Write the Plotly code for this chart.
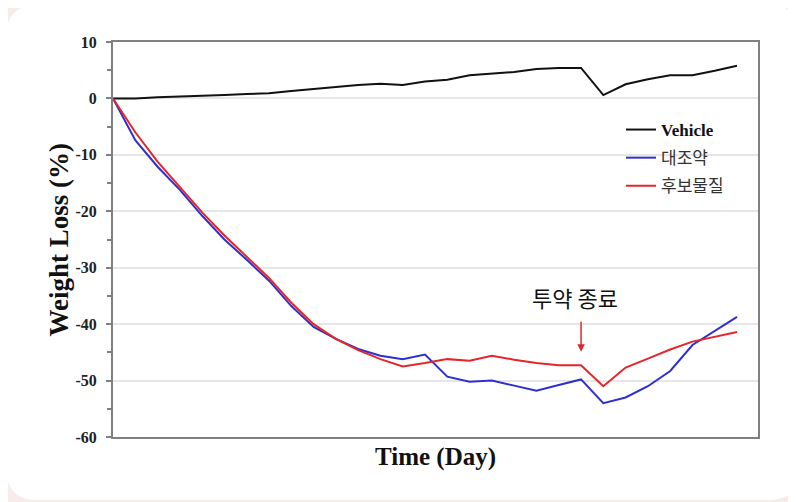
import plotly.graph_objects as go

days = list(range(29))
vehicle = [0, 0, 0.2, 0.3, 0.4, 0.6, 0.8, 0.9, 1.3, 1.7, 2.0, 2.4, 2.6, 2.4, 3.0,
           3.3, 4.1, 4.4, 4.7, 5.2, 5.4, 5.4, 0.6, 2.5, 3.4, 4.1, 4.1, 4.9, 5.8]
control = [0, -7.4, -12.1, -16.2, -20.8, -25.0, -28.6, -32.3, -36.8, -40.5, -42.6,
           -44.4, -45.6, -46.2, -45.4, -49.3, -50.2, -50.0, -50.9, -51.8, -50.8,
           -49.8, -54.0, -53.0, -51.0, -48.3, -43.7, -41.2, -38.7]
candidate = [0, -6.0, -11.2, -15.8, -20.2, -24.3, -28.0, -31.8, -36.2, -40.0, -42.6,
             -44.6, -46.2, -47.5, -46.9, -46.2, -46.5, -45.6, -46.3, -46.9, -47.3,
             -47.3, -51.0, -47.7, -46.1, -44.5, -43.1, -42.3, -41.4]
series_names = ["Vehicle", "대조약", "후보물질"]
series_colors = ["#111111", "#2f2fd0", "#e3262b"]
y_tick_vals = [10, 0, -10, -20, -30, -40, -50, -60]
y_tick_text = ["10", "0", "-10", "-20", "-30", "-40", "-50", "-60"]
end_day = 21
end_label = "투약 종료"
x_title = "Time (Day)"
y_title = "Weight Loss (%)"

W, H = 796, 502
OFF = 8  # page body margin
L, R, T, B = 113 - OFF, 758 - OFF, 42 - OFF, 437 - OFF


def px(x):
    return (x - OFF - L) / (R - L)


def py(y):
    return (B - (y - OFF)) / (B - T)


def rounded_rect(x0, y0, x1, y1, r):
    pts = [
        f"M {px(x0 + r)} {py(y0)}",
        f"L {px(x1 - r)} {py(y0)}",
        f"Q {px(x1)} {py(y0)} {px(x1)} {py(y0 + r)}",
        f"L {px(x1)} {py(y1 - r)}",
        f"Q {px(x1)} {py(y1)} {px(x1 - r)} {py(y1)}",
        f"L {px(x0 + r)} {py(y1)}",
        f"Q {px(x0)} {py(y1)} {px(x0)} {py(y1 - r)}",
        f"L {px(x0)} {py(y0 + r)}",
        f"Q {px(x0)} {py(y0)} {px(x0 + r)} {py(y0)}",
        "Z",
    ]
    return " ".join(pts)


fig = go.Figure()
kr = "<span style='font-family:Noto Sans CJK KR;font-weight:normal;fill:#333333'>{}</span>"
for i, (name, vals) in enumerate(zip(series_names, [vehicle, control, candidate])):
    label = name if i == 0 else kr.format(name)
    fig.add_trace(go.Scatter(
        x=days, y=vals, mode="lines", name=label, legendgroup=f"g{i}",
        line=dict(color=series_colors[i], width=2),
    ))

fig.add_shape(type="path", xref="paper", yref="paper",
              path=rounded_rect(6, 5, 800, 500, 32),
              fillcolor="white", line=dict(width=0), layer="below")

# arrow
fig.add_annotation(x=end_day, y=-44.9, ax=end_day, ay=-39.3, axref="x", ayref="y",
                   xref="x", yref="y", text="", showarrow=True, arrowhead=2,
                   arrowsize=1, arrowwidth=1.5, arrowcolor="#e3262b")
fig.add_annotation(x=20.75, y=-35.2, xref="x", yref="y", text=end_label,
                   showarrow=False, font=dict(family="Noto Sans CJK KR", size=22, color="#111"),
                   xanchor="center", yanchor="middle")

title_font = dict(family="Liberation Serif", size=25, color="#111", weight="bold")
fig.add_annotation(x=0.5, y=py(457), xref="paper", yref="paper", text=x_title,
                   showarrow=False, font=title_font, xanchor="center", yanchor="middle")
fig.add_annotation(x=px(58), y=0.5, xref="paper", yref="paper", text=y_title,
                   showarrow=False, font=dict(title_font, size=27), textangle=-90,
                   xanchor="center", yanchor="middle")

fig.update_layout(
    width=W, height=H,
    margin=dict(l=L, r=W - R, t=T, b=H - B),
    paper_bgcolor="#f8ecea",
    plot_bgcolor="white",
    showlegend=True,
    legend=dict(x=px(621), y=py(112), xanchor="left", yanchor="top",
                bgcolor="rgba(0,0,0,0)", tracegroupgap=3, itemwidth=30,
                font=dict(family="Liberation Serif", size=17, color="#111", weight="bold")),
    xaxis=dict(range=[0, 28.94], showticklabels=False, ticks="", showgrid=False,
               zeroline=False, showline=True, linecolor="#808080", linewidth=2, mirror=True,
               automargin=False),
    yaxis=dict(range=[-60, 10], tickmode="array", tickvals=y_tick_vals, ticktext=y_tick_text,
               ticks="outside", ticklen=5, tickwidth=1.5,
               tickcolor="#808080", showgrid=True, gridcolor="#e6e6e6", gridwidth=1.5,
               zeroline=False, showline=True, linecolor="#808080", linewidth=2, mirror=True,
               ticklabelstandoff=6, automargin=False,
               minor=dict(tickmode="linear", tick0=5, dtick=10, ticks="outside", ticklen=4,
                          tickcolor="#808080", showgrid=False),
               tickfont=dict(family="Liberation Serif", size=16, color="#222", weight="bold")),
)

fig.write_html("out.html")
